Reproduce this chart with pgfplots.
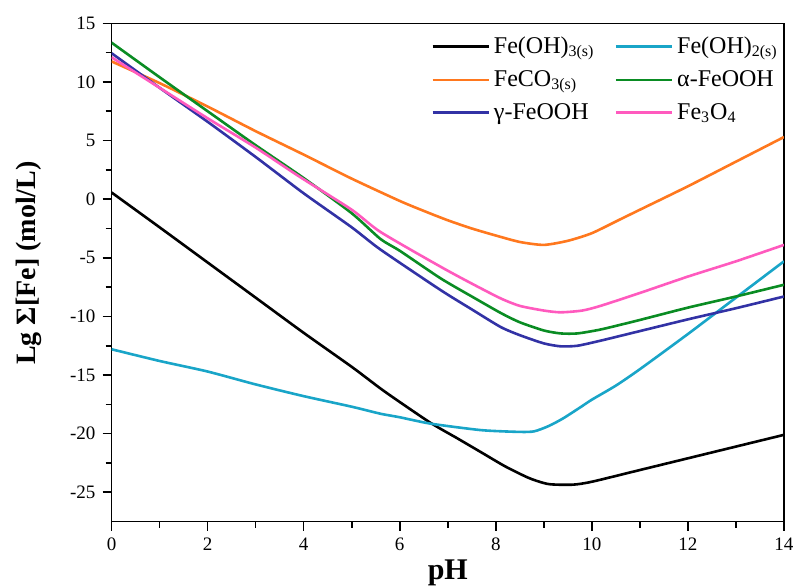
\documentclass[border=0pt]{standalone}
\usepackage{fontspec}
\setmainfont{Liberation Serif}
\usepackage{pgfplots}
\pgfplotsset{compat=1.18}
\definecolor{cFeA}{RGB}{0,0,0}
\definecolor{cFeB}{RGB}{25,165,200}
\definecolor{cCO}{RGB}{255,120,30}
\definecolor{cAl}{RGB}{10,140,35}
\definecolor{cGa}{RGB}{50,50,165}
\definecolor{cMa}{RGB}{255,90,190}
\begin{document}
\begin{tikzpicture}
\begin{axis}[
  scale only axis, width=336pt, height=249pt,
  xmin=0, xmax=14, ymin=-27.5, ymax=15,
  xtick={0,2,...,14}, minor x tick num=1,
  ytick={-25,-20,...,15}, minor y tick num=1,
  xtick pos=bottom, ytick pos=left, tick align=outside,
  major tick length=4.5pt, minor tick length=3pt,
  axis line style={line width=0.8pt}, tick style={line width=0.8pt, black},
  /pgf/number format/assume math mode=true,
  tick label style={font=\fontsize{9.5}{11}\selectfont},
  xlabel={pH}, ylabel={Lg Σ[Fe] (mol/L)},
  every axis x label/.style={at={(axis description cs:0.5,-0.103)}, anchor=center, font=\fontsize{15}{18}\selectfont\bfseries},
  every axis y label/.style={at={(axis description cs:-0.123,0.519)}, anchor=center, rotate=90, font=\fontsize{14}{17}\selectfont\bfseries},
  legend columns=2,
  legend cell align=left,
  legend style={at={(axis description cs:0.466,0.99)}, anchor=north west, draw=none, fill=none,
    font=\fontsize{12}{14}\selectfont\rmfamily, row sep=3pt,
    /tikz/every even column/.append style={column sep=8pt}},
  legend image code/.code={\draw[#1] (0pt,0pt) -- (28pt,0pt);},
  every axis plot/.append style={line width=1.3pt, smooth, tension=0.4},
]
\addplot[cFeA] coordinates {(0,0.57) (1,-2.4) (2,-5.4) (3,-8.4) (4,-11.4) (5,-14.3) (5.6,-16.15) (6,-17.3) (6.65,-19.1) (7.2,-20.4) (7.7,-21.6) (8.2,-22.8) (8.7,-23.8) (9.1,-24.3) (9.6,-24.35) (10,-24.1) (11,-23.1) (12,-22.1) (12.7,-21.4) (13,-21.1) (14,-20.1)};
\addlegendentry{Fe(OH)\textsubscript{3(s)}}
\addplot[cFeB] coordinates {(0,-12.8) (1,-13.8) (2,-14.7) (3,-15.8) (4,-16.8) (5,-17.7) (5.6,-18.3) (6,-18.6) (6.65,-19.15) (7.7,-19.7) (8.5,-19.85) (8.8,-19.8) (9.1,-19.35) (9.4,-18.7) (9.76,-17.75) (10,-17.1) (10.5,-15.9) (11,-14.5) (12,-11.5) (13,-8.4) (14,-5.3)};
\addlegendentry{Fe(OH)\textsubscript{2(s)}}
\addplot[cCO] coordinates {(0,11.75) (1,9.9) (2,7.9) (3,5.8) (4,3.8) (5,1.75) (6,-0.15) (6.5,-1.0) (7,-1.8) (7.5,-2.5) (8,-3.1) (8.5,-3.65) (9,-3.9) (9.5,-3.55) (10,-2.9) (10.6,-1.7) (11,-0.9) (12,1.1) (13,3.2) (14,5.3)};
\addlegendentry{FeCO\textsubscript{3(s)}}
\addplot[cAl] coordinates {(0,13.35) (1,10.4) (2,7.5) (3,4.6) (4,1.8) (5,-1.2) (5.6,-3.4) (6,-4.4) (6.85,-6.75) (7.5,-8.3) (8.1,-9.7) (8.5,-10.5) (9,-11.2) (9.35,-11.45) (9.7,-11.45) (10.2,-11.1) (11,-10.3) (12,-9.25) (13,-8.3) (14,-7.3)};
\addlegendentry{α-FeOOH}
\addplot[cGa] coordinates {(0,12.45) (1,9.5) (2,6.6) (3,3.6) (4,0.5) (5,-2.4) (5.6,-4.3) (6.85,-7.75) (7.5,-9.4) (8.1,-10.9) (8.5,-11.6) (9,-12.3) (9.35,-12.55) (9.7,-12.5) (10.2,-12.05) (11,-11.25) (12,-10.25) (13,-9.3) (14,-8.3)};
\addlegendentry{γ-FeOOH}
\addplot[cMa] coordinates {(0,12.1) (1,9.5) (2,6.9) (3,4.4) (3.92,1.9) (5,-0.9) (5.6,-2.8) (6.85,-5.76) (7.5,-7.2) (8.1,-8.46) (8.5,-9.1) (9,-9.5) (9.35,-9.65) (9.8,-9.5) (10.18,-9.1) (11,-8.0) (12,-6.6) (13,-5.3) (14,-3.9)};
\addlegendentry{Fe\textsubscript{3}O\textsubscript{4}}
\end{axis}
\pgfresetboundingbox
\path[use as bounding box] ([shift={(-55.75pt,-32.15pt)}]current axis.south west) rectangle ([shift={(5.5pt,11.65pt)}]current axis.north east);
\end{tikzpicture}
\end{document}
